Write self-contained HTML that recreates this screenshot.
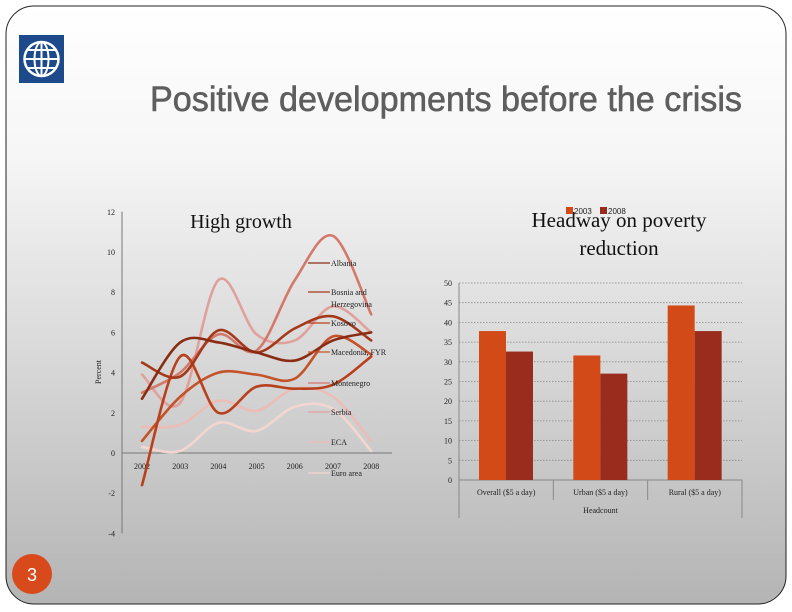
<!DOCTYPE html>
<html><head><meta charset="utf-8"><style>
html,body{margin:0;padding:0;width:792px;height:612px;overflow:hidden;background:#fff}
svg{display:block}
</style></head><body>
<svg id="s" width="792" height="612" viewBox="0 0 792 612" xmlns="http://www.w3.org/2000/svg">
<defs>
<linearGradient id="bg" x1="0" y1="0" x2="0" y2="1">
<stop offset="0" stop-color="#ffffff"/><stop offset="0.25" stop-color="#f6f6f6"/><stop offset="1" stop-color="#b4b4b4"/>
</linearGradient>
</defs>
<rect width="792" height="612" fill="#fff"/>
<rect x="6" y="6" width="780" height="598" rx="28" fill="url(#bg)" stroke="#222" stroke-width="1"/>
<g>
<rect x="19" y="35" width="45" height="48" fill="#1c4a8a"/>
<circle cx="41.5" cy="59" r="17" fill="none" stroke="#fff" stroke-width="2.5"/>
<ellipse cx="41.5" cy="59" rx="7" ry="17" fill="none" stroke="#fff" stroke-width="2"/>
<line x1="41.5" y1="42" x2="41.5" y2="76" stroke="#fff" stroke-width="2"/>
<line x1="25" y1="59" x2="58" y2="59" stroke="#fff" stroke-width="2"/>
<line x1="28" y1="50" x2="55" y2="50" stroke="#fff" stroke-width="2"/>
<line x1="28" y1="68" x2="55" y2="68" stroke="#fff" stroke-width="2"/>
</g>
<text x="150" y="111" font-family="Liberation Sans, sans-serif" font-size="35" fill="#5e5e5e" stroke="#5e5e5e" stroke-width="0.6" textLength="592" lengthAdjust="spacingAndGlyphs">Positive developments before the crisis</text>
<g id="line-chart"></g>
<g id="bar-chart"></g>
<g>
<circle cx="32" cy="574" r="20" fill="#d84a1c"/>
<text x="32" y="581" text-anchor="middle" font-family="Liberation Sans, sans-serif" font-size="18" fill="#fff">3</text>
</g>
</svg>
<script>
const years=['2002','2003','2004','2005','2006','2007','2008'];
const yTicks=[12,10,8,6,4,2,0,-2,-4];
const seriesNames=['Albania','Bosnia and Herzegovina','Kosovo','Macedonia, FYR','Montenegro','Serbia','ECA','Euro area'];
const albania=[2.7,5.5,5.5,5.0,4.6,5.6,6.0];
const bosnia=[4.5,3.8,6.1,5.0,6.2,6.8,5.6];
const kosovo=[-1.6,4.8,2.0,3.3,3.2,3.4,4.8];
const macedonia=[0.6,2.8,4.0,3.9,3.7,5.8,4.9];
const montenegro=[3.0,4.0,5.9,5.1,8.6,10.8,6.9];
const serbia=[3.9,2.5,8.6,5.9,5.6,7.3,6.0];
const eca=[1.3,1.4,2.6,2.1,3.2,2.8,0.6];
const euro=[0.3,0.1,1.5,1.1,2.3,2.2,0.1];
const barCats=['Overall ($5 a day)','Urban ($5 a day)','Rural ($5 a day)'];
const bar2003=[37.8,31.6,44.3];
const bar2008=[32.6,27.0,37.8];
const barTicks=[0,5,10,15,20,25,30,35,40,45,50];

const NS='http://www.w3.org/2000/svg';
function mk(p,t,a,txt){const e=document.createElementNS(NS,t);for(const k in a)e.setAttribute(k,a[k]);if(txt!==undefined)e.textContent=txt;p.appendChild(e);return e;}
const serif='Liberation Serif, serif';

const lc=document.getElementById('line-chart');
const lx=i=>142+i*38.2;
const ly=v=>453-v*20.1;
mk(lc,'line',{x1:122,y1:ly(12),x2:122,y2:ly(-4),stroke:'#777','stroke-width':1});
mk(lc,'line',{x1:122,y1:ly(0),x2:392,y2:ly(0),stroke:'#777','stroke-width':1});
yTicks.forEach(v=>{
 const t=mk(lc,'text',{x:115,y:ly(v)+3,'text-anchor':'end','font-family':serif,'font-size':8,fill:'#222'},String(v));
 
 
});
years.forEach((y,i)=>{
 const t=mk(lc,'text',{x:lx(i),y:469,'text-anchor':'middle','font-family':serif,'font-size':8,fill:'#222'},y);
 
 
});
const yl=mk(lc,'text',{x:0,y:0,transform:'translate(101,372) rotate(-90)','text-anchor':'middle','font-family':serif,'font-size':8,fill:'#222'},'Percent');


const ht=mk(lc,'text',{x:241,y:228,'text-anchor':'middle','font-family':serif,'font-size':20,fill:'#111'},'High growth');


function smooth(vals){
 const p=vals.map((v,i)=>[lx(i),ly(v)]);
 let d='M'+p[0][0]+','+p[0][1];
 for(let i=0;i<p.length-1;i++){
  const p0=p[Math.max(0,i-1)],p1=p[i],p2=p[i+1],p3=p[Math.min(p.length-1,i+2)];
  const c1=[p1[0]+(p2[0]-p0[0])/6,p1[1]+(p2[1]-p0[1])/6];
  const c2=[p2[0]-(p3[0]-p1[0])/6,p2[1]-(p3[1]-p1[1])/6];
  d+=' C'+c1[0]+','+c1[1]+' '+c2[0]+','+c2[1]+' '+p2[0]+','+p2[1];
 }
 return d;
}
const allSeries=[albania,bosnia,kosovo,macedonia,montenegro,serbia,eca,euro];
const colors=['#8a2c14','#a4381a','#b8401c','#c4522a','#d4786a','#e0a09c','#ecbcb6','#f4d6d0'];
const legY=[263,292,323,352,383,412,442,473];
for(let k=allSeries.length-1;k>=0;k--){
 const pth=mk(lc,'path',{d:smooth(allSeries[k]),fill:'none',stroke:colors[k],'stroke-width':2.6,'stroke-linecap':'round'});
 
 
}
seriesNames.forEach((n,k)=>{
 const g=mk(lc,'g',{});
 
 
 mk(g,'line',{x1:308,y1:legY[k],x2:330,y2:legY[k],stroke:colors[k],'stroke-width':1.2});
 if(k===1){
  mk(g,'text',{x:331,y:legY[k]+3,'font-family':serif,'font-size':8,fill:'#222'},'Bosnia and');
  mk(g,'text',{x:331,y:legY[k]+15,'font-family':serif,'font-size':8,fill:'#222'},'Herzegovina');
 } else {
  mk(g,'text',{x:331,y:legY[k]+3,'font-family':serif,'font-size':8,fill:'#222'},n);
 }
});

const bc=document.getElementById('bar-chart');
const bx0=459,bx1=742,bw=(bx1-bx0)/3;
const by=v=>480-v*3.94;
barTicks.forEach(v=>{
 if(v>0) mk(bc,'line',{x1:bx0,y1:by(v),x2:bx1,y2:by(v),stroke:'#888','stroke-width':0.8,'stroke-dasharray':'1.5,1.5'});
 const t=mk(bc,'text',{x:452,y:by(v)+3,'text-anchor':'end','font-family':serif,'font-size':8,fill:'#222'},String(v));
 
 
});
mk(bc,'line',{x1:bx0,y1:by(50),x2:bx0,y2:518,stroke:'#888','stroke-width':1});
mk(bc,'line',{x1:bx0,y1:480,x2:bx1,y2:480,stroke:'#888','stroke-width':1});
[1,2,3].forEach(i=>mk(bc,'line',{x1:bx0+i*bw,y1:480,x2:bx0+i*bw,y2:i===3?518:500,stroke:'#888','stroke-width':1}));
barCats.forEach((c,i)=>{
 const cx=bx0+i*bw;
 const r1=mk(bc,'rect',{x:cx+20,y:by(bar2003[i]),width:27,height:480-by(bar2003[i]),fill:'#d24a18'});
 
 
 const r2=mk(bc,'rect',{x:cx+47,y:by(bar2008[i]),width:27,height:480-by(bar2008[i]),fill:'#9a2c1e'});
 
 
 const t=mk(bc,'text',{x:cx+bw/2,y:495,'text-anchor':'middle','font-family':serif,'font-size':8,fill:'#222'},c);
 
 
});
const hc=mk(bc,'text',{x:(bx0+bx1)/2,y:513,'text-anchor':'middle','font-family':serif,'font-size':8,fill:'#222'},'Headcount');


const t1=mk(bc,'text',{x:619,y:227,'text-anchor':'middle','font-family':serif,'font-size':21,fill:'#111'},'Headway on poverty');


mk(bc,'text',{x:619,y:255,'text-anchor':'middle','font-family':serif,'font-size':21,fill:'#111'},'reduction');
const lg=mk(bc,'g',{});


mk(lg,'rect',{x:566,y:207,width:7,height:7,fill:'#d24a18'});
mk(lg,'text',{x:574,y:214,'font-family':'Liberation Sans, sans-serif','font-size':8,fill:'#222'},'2003');
mk(lg,'rect',{x:600,y:207,width:7,height:7,fill:'#9a2c1e'});
mk(lg,'text',{x:608,y:214,'font-family':'Liberation Sans, sans-serif','font-size':8,fill:'#222'},'2008');
</script>
</body></html>
